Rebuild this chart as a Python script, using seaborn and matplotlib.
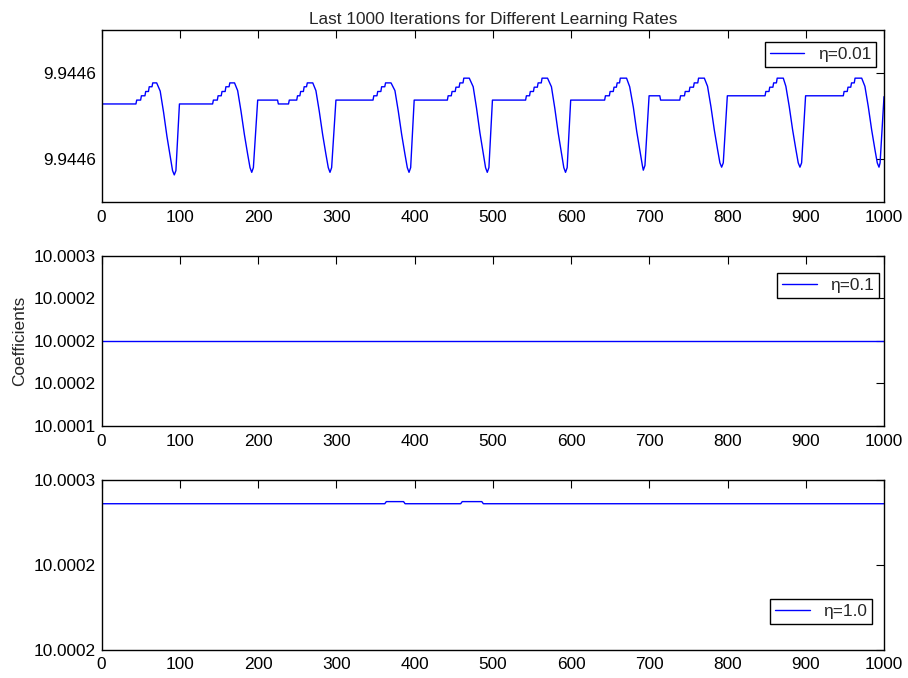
import matplotlib
matplotlib.use("Agg")
import matplotlib.pyplot as plt
from matplotlib.ticker import FormatStrFormatter
import seaborn as sns

# ---- data: coefficient trace over the last 1000 iterations ----
# eta = 0.01 (polyline vertices, one cycle per line)
iters_lr001 = [
    0, 44, 45, 50, 51, 55.5, 56.5, 60, 61, 64.5, 65.5, 70.5, 75, 79.3, 83.6, 87.8, 90.8, 93, 95.1, 99.6,
    142, 143, 148, 149, 153, 154, 158, 159, 163, 164, 170, 174, 178.3, 182.6, 186.8, 189.8, 192, 194.1, 199.6,
    225, 226, 239, 240, 249.5, 250.5, 253.5, 254.5, 258, 259, 262, 263, 270, 274, 278.3, 282.6, 286.8, 289.8, 292, 294.1, 299.6,
    347, 348, 352, 353, 357, 358, 362, 363, 370, 375, 379.3, 383.6, 387.8, 390.8, 393, 395.1, 399.6,
    442, 443, 447, 448, 452, 453, 457, 458, 462, 463, 470, 475, 479.3, 483.6, 487.8, 490.8, 493, 495.1, 499.6,
    542, 543, 547, 548, 552, 553, 557, 558, 562, 563, 570, 575, 579.3, 583.6, 587.8, 590.8, 593, 595.1, 599.6,
    643, 644, 649, 650, 654, 655, 658, 659, 662, 663, 671, 675, 679.7, 684, 688.2, 691.2, 692.4, 694.5, 699.8,
    713.5, 714.5, 739, 740, 745, 746, 751, 752, 756.5, 757.5, 762, 763, 770.4, 774.5, 778.8, 783.1, 787.3, 790.3, 792.5, 794.6, 799.8,
    848, 849, 853, 854, 858, 859, 862.5, 863.5, 871.3, 874.6, 878.9, 883.2, 887.4, 890.4, 892.6, 894.7, 899.8,
    948, 949, 953, 954, 957.5, 958.5, 962, 963, 971.5, 975.6, 979.9, 984.2, 988.4, 991.4, 993.6, 995, 1000,
]
coef_lr001 = [
    9.9446028, 9.9446028, 9.9446037, 9.9446037, 9.9446047, 9.9446047, 9.9446057, 9.9446057, 9.9446068, 9.9446068,
    9.9446077, 9.9446077, 9.9446058, 9.9446009, 9.9445953, 9.9445906, 9.9445873, 9.9445863, 9.9445873, 9.9446028,
    9.9446028, 9.9446037, 9.9446037, 9.9446047, 9.9446047, 9.9446057, 9.9446057, 9.9446068, 9.9446068, 9.9446077,
    9.9446077, 9.9446059, 9.9446011, 9.9445957, 9.9445911, 9.9445880, 9.9445869, 9.9445880, 9.9446037,
    9.9446037, 9.9446028, 9.9446028, 9.9446037, 9.9446037, 9.9446047, 9.9446047, 9.9446057, 9.9446057, 9.9446068,
    9.9446068, 9.9446077, 9.9446077, 9.9446059, 9.9446011, 9.9445957, 9.9445911, 9.9445880, 9.9445869, 9.9445880, 9.9446037,
    9.9446037, 9.9446047, 9.9446047, 9.9446057, 9.9446057, 9.9446068, 9.9446068, 9.9446077, 9.9446077,
    9.9446059, 9.9446011, 9.9445957, 9.9445911, 9.9445880, 9.9445869, 9.9445880, 9.9446037,
    9.9446037, 9.9446047, 9.9446047, 9.9446057, 9.9446057, 9.9446067, 9.9446067, 9.9446077, 9.9446077, 9.9446088,
    9.9446088, 9.9446068, 9.9446018, 9.9445961, 9.9445913, 9.9445880, 9.9445869, 9.9445880, 9.9446037,
    9.9446037, 9.9446047, 9.9446047, 9.9446057, 9.9446057, 9.9446067, 9.9446067, 9.9446077, 9.9446077, 9.9446088,
    9.9446088, 9.9446068, 9.9446018, 9.9445961, 9.9445913, 9.9445880, 9.9445869, 9.9445880, 9.9446037,
    9.9446037, 9.9446047, 9.9446047, 9.9446057, 9.9446057, 9.9446067, 9.9446067, 9.9446077, 9.9446077, 9.9446088,
    9.9446088, 9.9446068, 9.9446020, 9.9445964, 9.9445917, 9.9445885, 9.9445874, 9.9445885, 9.9446047,
    9.9446047, 9.9446037, 9.9446037, 9.9446047, 9.9446047, 9.9446057, 9.9446057, 9.9446067, 9.9446067, 9.9446077,
    9.9446077, 9.9446088, 9.9446088, 9.9446069, 9.9446022, 9.9445968, 9.9445922, 9.9445891, 9.9445881, 9.9445891, 9.9446047,
    9.9446047, 9.9446057, 9.9446057, 9.9446067, 9.9446067, 9.9446077, 9.9446077, 9.9446088, 9.9446088,
    9.9446069, 9.9446022, 9.9445968, 9.9445922, 9.9445891, 9.9445881, 9.9445891, 9.9446047,
    9.9446047, 9.9446057, 9.9446057, 9.9446067, 9.9446067, 9.9446077, 9.9446077, 9.9446088, 9.9446088,
    9.9446069, 9.9446022, 9.9445968, 9.9445922, 9.9445891, 9.9445881, 9.9445891, 9.9446045,
]

# eta = 0.1 (constant)
iters_lr01 = [0, 1000]
coef_lr01 = [10.000195, 10.000195]

# eta = 1.0 (two small plateaus)
iters_lr1 = [0, 362, 364, 386, 388, 459, 461, 486, 488, 1000]
coef_lr1 = [10.0002494, 10.0002494, 10.0002499, 10.0002499, 10.0002494,
            10.0002494, 10.0002499, 10.0002499, 10.0002494, 10.0002494]

labels = ["\u03b7=0.01", "\u03b7=0.1", "\u03b7=1.0"]
x_ticks = [0, 100, 200, 300, 400, 500, 600, 700, 800, 900, 1000]
y_ticks_lr001 = [9.94459, 9.94461]
y_ticks_lr01 = [10.000135, 10.000165, 10.000195, 10.000225, 10.000255]
y_ticks_lr1 = [10.000215, 10.000235, 10.000255]

# ---- styling ----
FS = 12.4
sns.set_theme(style="white")
plt.rcParams["font.family"] = ["Liberation Sans", "DejaVu Sans"]
plt.rcParams["axes.edgecolor"] = "black"
plt.rcParams["axes.linewidth"] = 1.0

fig = plt.figure(figsize=(9.08, 6.78), dpi=100)
fig.patch.set_facecolor("white")

W, H = 908.0, 678.0
left, right = 101.5, 884.0
rects = [
    (left / W, 1 - 202 / H, (right - left) / W, 172 / H),
    (left / W, 1 - 426 / H, (right - left) / W, 170 / H),
    (left / W, 1 - 649.5 / H, (right - left) / W, 169.5 / H),
]

series = [
    (iters_lr001, coef_lr001, (9.94458, 9.94462), y_ticks_lr001),
    (iters_lr01, coef_lr01, (10.000135, 10.000255), y_ticks_lr01),
    (iters_lr1, coef_lr1, (10.000215, 10.000255), y_ticks_lr1),
]

axes = []
for rect, (xs, ys, ylim, yt), lab in zip(rects, series, labels):
    ax = fig.add_axes(rect)
    sns.lineplot(x=xs, y=ys, ax=ax, color="blue", linewidth=1.0,
                 sort=False, estimator=None, label=lab)
    ax.set_xlim(0, 1000)
    ax.set_ylim(*ylim)
    ax.set_xticks(x_ticks)
    ax.set_yticks(yt)
    ax.yaxis.set_major_formatter(FormatStrFormatter("%.4f"))
    ax.tick_params(direction="in", top=True, right=True, length=5.5, width=0.8,
                   labelsize=FS, colors="black")
    ax.tick_params(axis="x", pad=5.5)
    ax.tick_params(axis="y", pad=4)
    for sp in ax.spines.values():
        sp.set_visible(True)
        sp.set_color("black")
        sp.set_linewidth(1.0)
    ax.grid(False)
    ax.set_facecolor("white")
    axes.append(ax)

# legends
leg_kw = dict(frameon=True, fancybox=False, fontsize=FS, handlelength=2.0,
              handletextpad=0.8, borderaxespad=0, borderpad=0.28, framealpha=1)
l1 = axes[0].legend(loc="upper right", bbox_to_anchor=(1 - 8 / 782.5, 1 - 12 / 172), **leg_kw)
l2 = axes[1].legend(loc="upper right", bbox_to_anchor=(1 - 5 / 782.5, 1 - 17 / 170), **leg_kw)
l3 = axes[2].legend(loc="lower right", bbox_to_anchor=(1 - 12 / 782.5, 26 / 169.5), **leg_kw)
for lg in (l1, l2, l3):
    lg.get_frame().set_edgecolor("black")
    lg.get_frame().set_linewidth(1.0)
    lg.get_frame().set_boxstyle("square", pad=0)

axes[0].set_title("Last 1000 Iterations for Different Learning Rates", fontsize=FS, pad=4)
axes[1].set_ylabel("Coefficients", fontsize=FS)
axes[1].yaxis.set_label_coords(-0.0945, 0.5)
for ax in axes:
    ax.set_xlabel("")
    if ax is not axes[1]:
        ax.set_ylabel("")

fig.savefig("out.png", dpi=100, facecolor="white")
